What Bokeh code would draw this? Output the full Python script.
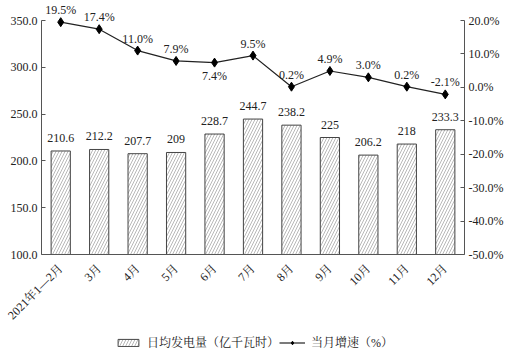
from bokeh.plotting import figure
from bokeh.layouts import column
from bokeh.models import (Range1d, LinearAxis, FixedTicker, PrintfTickFormatter,
                          ColumnDataSource, Legend, LegendItem, FactorRange)
from bokeh.embed import file_html
from bokeh.resources import INLINE
from bokeh.core.properties import value
import math

categories = ["2021年1—2月", "3月", "4月", "5月", "6月", "7月", "8月", "9月", "10月", "11月", "12月"]
generation = [210.6, 212.2, 207.7, 209, 228.7, 244.7, 238.2, 225, 206.2, 218, 233.3]
generation_labels = ["210.6", "212.2", "207.7", "209", "228.7", "244.7", "238.2", "225", "206.2", "218", "233.3"]
growth = [19.5, 17.4, 11.0, 7.9, 7.4, 9.5, 0.2, 4.9, 3.0, 0.2, -2.1]
left_ticks = [100, 150, 200, 250, 300, 350]
right_ticks = [-50, -40, -30, -20, -10, 0, 10, 20]
legend_labels = ["日均发电量（亿千瓦时）", "当月增速（%）"]

FONT = "Liberation Serif, Times New Roman, Noto Serif CJK SC, Noto Sans CJK SC, serif"
AX = "#555555"
TXT = "#222222"
BAR_STYLE = dict(fill_color="white", line_color="#444444", line_width=1,
                 hatch_pattern="right_diagonal_line", hatch_color="#888888",
                 hatch_scale=6, hatch_weight=0.6)
LINE_STYLE = dict(line_color="#222222", line_width=1.2)
PT_STYLE = dict(marker="diamond", size=9, fill_color="black", line_color="black")

growth_labels = ["%.1f%%" % g for g in growth]
below_idx = {4}
growth_offsets = [13 if i in below_idx else -12 for i in range(len(growth))]

AXIS_PX = 234.0
HEAD_PX = 18.0
l_lo, l_hi = left_ticks[0], left_ticks[-1]
r_lo, r_hi = right_ticks[0], right_ticks[-1]
l_k = (l_hi - l_lo) / AXIS_PX
r_k = (r_hi - r_lo) / AXIS_PX

src_bar = ColumnDataSource(dict(x=categories, top=generation, lab=generation_labels))
src_line = ColumnDataSource(dict(x=categories, y=growth, lab=growth_labels, off=growth_offsets))

p = figure(width=523, height=334, x_range=FactorRange(*categories, range_padding=0),
           y_range=Range1d(l_lo, l_hi + HEAD_PX * l_k),
           output_backend="svg", toolbar_location=None,
           min_border_left=41, min_border_right=59, min_border_top=2, min_border_bottom=80)
p.extra_y_ranges = {"pct": Range1d(r_lo, r_hi + HEAD_PX * r_k)}

p.outline_line_color = None
p.xgrid.visible = False
p.ygrid.visible = False

p.vbar(x="x", top="top", bottom=l_lo, width=0.5, source=src_bar, **BAR_STYLE)
p.text(x="x", y="top", text="lab", source=src_bar, y_offset=-13,
       text_align="center", text_baseline="middle", text_font=value(FONT),
       text_font_size="12px", text_color=TXT)

p.line(x="x", y="y", source=src_line, y_range_name="pct", **LINE_STYLE)
p.scatter(x="x", y="y", source=src_line, y_range_name="pct", **PT_STYLE)
p.text(x="x", y="y", text="lab", source=src_line, y_range_name="pct", y_offset="off",
       text_align="center", text_baseline="middle", text_font=value(FONT),
       text_font_size="12px", text_color=TXT)

ax = p.yaxis[0]
ax.ticker = FixedTicker(ticks=left_ticks)
ax.formatter = PrintfTickFormatter(format="%.1f")
ax.bounds = (l_lo, l_hi)
rax = LinearAxis(y_range_name="pct", ticker=FixedTicker(ticks=right_ticks),
                 formatter=PrintfTickFormatter(format="%.1f%%"), bounds=(r_lo, r_hi))
p.add_layout(rax, "right")

for a in [ax, rax]:
    a.axis_line_color = AX
    a.major_tick_line_color = AX
    a.major_tick_in = 4
    a.major_tick_out = 0
    a.minor_tick_line_color = None
    a.major_label_text_font = FONT
    a.major_label_text_font_size = "12px"
    a.major_label_text_color = TXT
    a.major_label_standoff = 4

xa = p.xaxis[0]
xa.axis_line_color = AX
xa.major_tick_line_color = None
xa.minor_tick_line_color = None
xa.major_label_orientation = math.pi / 4
xa.major_label_text_font = FONT
xa.major_label_text_font_size = "12px"
xa.major_label_text_color = TXT
xa.major_label_standoff = 6

# legend strip below the chart; proxy renderers sit outside the visible range
q = figure(width=523, height=23, x_range=Range1d(0, 1), y_range=Range1d(0, 1),
           output_backend="svg", toolbar_location=None,
           x_axis_location=None, y_axis_location=None,
           min_border_left=0, min_border_right=0, min_border_top=0, min_border_bottom=0)
q.outline_line_color = None
q.xgrid.visible = False
q.ygrid.visible = False
lb = q.vbar(x=[-5], top=[-4], bottom=[-5], width=0.5, **BAR_STYLE)
ll = q.line(x=[-5, -4], y=[-5, -5], **LINE_STYLE)
lp = q.scatter(x=[-5], y=[-5], **PT_STYLE)
legend = Legend(items=[LegendItem(label=legend_labels[0], renderers=[lb]),
                       LegendItem(label=legend_labels[1], renderers=[ll, lp])],
                orientation="horizontal", location=(74, 6),
                glyph_width=26, glyph_height=9, label_text_font=FONT,
                label_text_font_size="12px", label_text_color=TXT,
                border_line_color=None, background_fill_alpha=0, spacing=0,
                label_standoff=6, padding=0, margin=0)
q.add_layout(legend, "center")

layout = column(p, q, spacing=0)
open("out.html", "w").write(file_html(layout, INLINE))
